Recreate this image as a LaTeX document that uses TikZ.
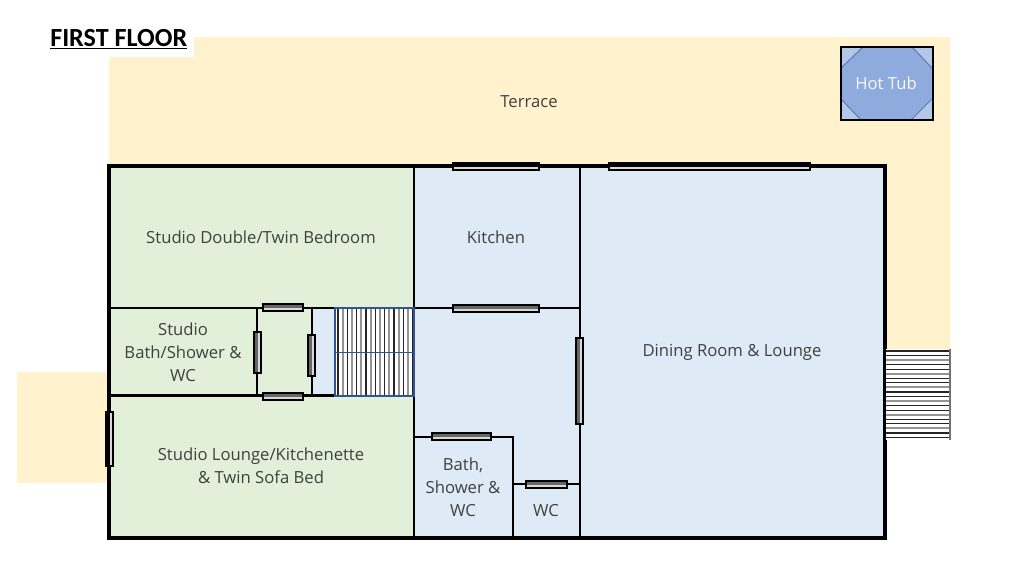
\documentclass[tikz,border=0pt]{standalone}
\usepackage{fontspec}
\setmainfont{Open Sans}
\newfontfamily\titlefont{Carlito}
\definecolor{terr}{HTML}{FFF2CC}
\definecolor{grn}{HTML}{E2F0D9}
\definecolor{blu}{HTML}{DEEBF7}
\definecolor{txt}{HTML}{404040}
\definecolor{tub}{HTML}{8FAADC}
\definecolor{tubl}{HTML}{B4C7E7}
\definecolor{tubd}{HTML}{5B7DB8}
\definecolor{stair}{HTML}{2F5597}
\tikzset{
  wall/.style={line width=2.3pt,draw=black,line cap=rect},
  iwall/.style={line width=1.9pt,draw=black,line cap=rect},
  win/.style={line width=1.5pt,draw=black},
  wing/.style={fill=black!60,draw=none},
  winb/.style={fill=black,draw=none},
  room/.style={text=txt,font=\fontsize{12.5pt}{17.4pt}\selectfont,align=center,inner sep=0pt},
}
\newcommand{\hwin}[4][wing]{%
  \fill[white!85!black] (#2,#4-3.5) rectangle (#3,#4+3.5);
  \fill[#1] (#2,#4-3.5) rectangle (#3,#4+0.5);
  \draw[win] (#2,#4-3.5) rectangle (#3,#4+3.5);}
\newcommand{\vwin}[4][wing]{%
  \fill[white!85!black] (#4-3.5,#2) rectangle (#4+3.5,#3);
  \fill[#1] (#4-3.5,#2) rectangle (#4+0.5,#3);
  \draw[win] (#4-3.5,#2) rectangle (#4+3.5,#3);}
\begin{document}
\begin{tikzpicture}[x=0.75pt,y=-0.75pt]
\useasboundingbox (0,0) rectangle (1024,576);
\fill[white] (0,0) rectangle (1024,576);
% terraces
\fill[terr] (194,37) -- (950,37) -- (950,349) -- (885,349) -- (885,166) -- (109,166) -- (109,57) -- (194,57) -- cycle;
\fill[terr] (17,372) rectangle (109,483);
% rooms
\fill[grn] (109,166) rectangle (414,538);
\fill[blu] (414,166) rectangle (885,538);
\fill[blu] (312,308) rectangle (335,396);
% walls
\draw[iwall] (109,308) -- (335,308);
\draw[iwall] (414,308) -- (580,308);
\draw[iwall] (109,395.5) -- (335,395.5);
\draw[iwall] (257,308) -- (257,396);
\draw[iwall] (312,308) -- (312,396);
\draw[iwall] (414,437) -- (513,437) -- (513,538);
\draw[iwall] (513,484) -- (580,484);
\draw[iwall] (580,166) -- (580,538);
\draw[iwall] (414,166) -- (414,538);
\draw[wall] (109,166) rectangle (885,538);
% inner stairs
\fill[white] (335,308) rectangle (414,396);
\foreach \i in {0,...,16} {
  \pgfmathparse{int(mod(\i,2))}
  \ifnum\pgfmathresult=0
    \draw[line width=1pt,black!85] (338+4.67*\i,308) -- (338+4.67*\i,396);
  \else
    \draw[line width=1.5pt,black!42] (338+4.67*\i,308) -- (338+4.67*\i,396);
  \fi
}
\draw[line width=0.9pt,stair] (335,308) rectangle (414,396);
\draw[line width=0.9pt,stair] (335,352.5) -- (414,352.5);
% outside stairs
\fill[white] (886,349) rectangle (950,440);
\foreach \i in {0,...,19} {
  \pgfmathparse{int(mod(\i,3))}
  \ifnum\pgfmathresult=2
    \draw[line width=1.5pt,black!42] (886,351+4.55*\i) -- (950,351+4.55*\i);
  \else
    \draw[line width=0.9pt,black!85] (886,351+4.55*\i) -- (950,351+4.55*\i);
  \fi
}
\draw[line width=0.9pt,black!55] (950,349) -- (950,440);
% windows
\hwin[winb]{453}{539}{166}
\hwin[winb]{609}{810}{166}
\hwin{453}{539}{308}
\hwin{263}{303}{307.5}
\hwin{263}{303}{396}
\hwin{432}{491}{436.5}
\hwin{526}{567}{484}
\vwin{332}{373}{257}
\vwin{335}{376}{311}
\vwin{338}{424}{579}
\vwin[winb]{412}{466}{109.5}
% hot tub
\fill[tubl] (841,47) rectangle (933,120);
\fill[tub,draw=tubd,line width=0.75pt] (863,47) -- (912,47) -- (933,69) -- (933,98) -- (911,120) -- (861,120) -- (841,99) -- (841,68) -- cycle;
\draw[line width=2pt,black] (841,47) rectangle (933,120);
% labels
\node[room] (terrace) at (529,101.5) {Terrace};
\node[room,text=white!92!tub] (hottub) at (886,83) {Hot Tub};
\node[room] (bedroom) at (261,237) {Studio Double/Twin Bedroom};
\node[room] (kitchen) at (496,237) {Kitchen};
\node[room] (dining) at (732,352.5) {Dining Room \& Lounge};
\node[room] (sbath) at (183,352.5) {Studio\\Bath/Shower \&\\WC};
\node[room] (slounge) at (261,466) {Studio Lounge/Kitchenette\\\& Twin Sofa Bed};
\node[room] (bath) at (463,487) {Bath,\\Shower \&\\WC};
\node[room] (wc) at (546,510.5) {WC};
\node[inner sep=0pt,anchor=base west,font=\titlefont\bfseries\fontsize{19.6pt}{22pt}\selectfont] (title) at (50,46) {\underline{FIRST FLOOR}};
\end{tikzpicture}
\end{document}
